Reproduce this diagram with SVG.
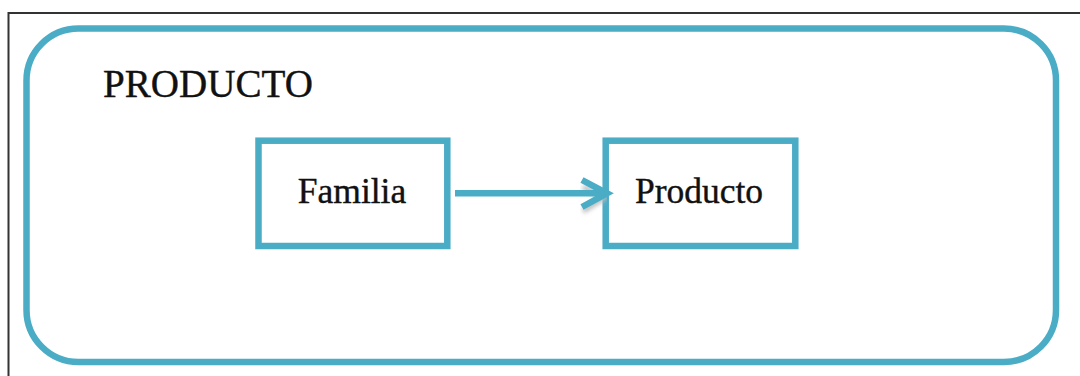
<svg xmlns="http://www.w3.org/2000/svg" width="1080" height="376" viewBox="0 0 1080 376">
  <style>
    .box { fill: #ffffff; stroke: #4BACC6; stroke-width: 6.5; }
    .label { font-family: "Liberation Serif", "Times New Roman", serif; fill: #111111; stroke: #111111; stroke-width: 0.4; }
    .link { stroke: #4BACC6; stroke-width: 6.5; fill: none; }
  </style>
  <defs>
    <filter id="shadow" x="-10%" y="-50%" width="120%" height="200%">
      <feGaussianBlur stdDeviation="2"/>
    </filter>
  </defs>

  <rect width="1080" height="376" fill="#ffffff"/>

  <!-- page frame -->
  <path d="M8.5 376 V13 H1080" fill="none" stroke="#333333" stroke-width="2"/>

  <!-- container -->
  <g id="producto-group">
    <rect x="26.5" y="28.5" width="1029.5" height="333.5" rx="52" ry="52" class="box"/>
    <text x="103" y="97" font-size="39" class="label" textLength="210" lengthAdjust="spacingAndGlyphs">PRODUCTO</text>
  </g>

  <g id="familia">
    <rect x="258.5" y="140.7" width="188.8" height="105.3" class="box"/>
    <text x="352" y="202.7" font-size="35.5" class="label" text-anchor="middle">Familia</text>
  </g>

  <g id="producto">
    <rect x="605.7" y="140.7" width="189.6" height="105.3" class="box"/>
    <text x="699" y="202.7" font-size="35.5" class="label" text-anchor="middle">Producto</text>
  </g>

  <g id="connectors">
    <path d="M455 198 H604" stroke="#bbbbbb" stroke-width="7" fill="none" filter="url(#shadow)"/>
    <path d="M583 187 L604 198 L583 211" stroke="#bbbbbb" stroke-width="5" fill="none" filter="url(#shadow)"/>
    <path d="M455 193.3 H606" class="link"/>
    <path d="M582 180 L607 193.3 L582 207" class="link" stroke-width="6" stroke-linejoin="miter"/>
  </g>
</svg>
